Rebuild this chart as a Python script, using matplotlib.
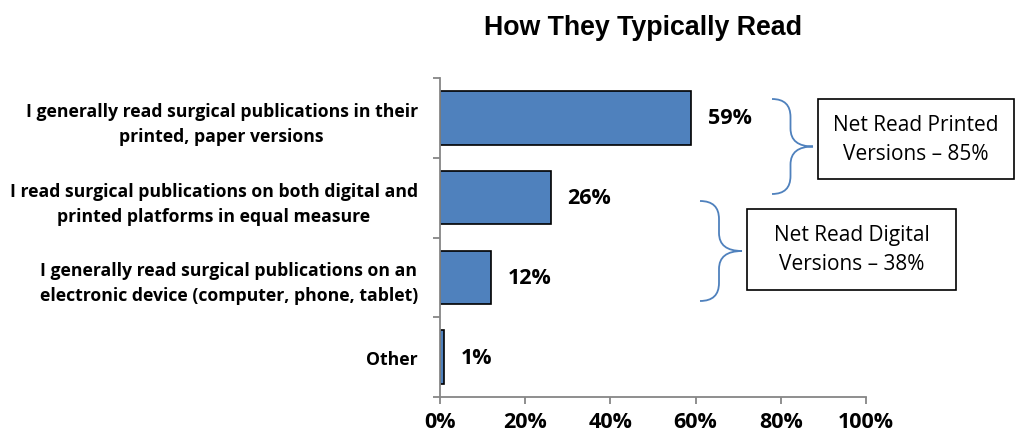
import matplotlib.pyplot as plt
from matplotlib.path import Path
from matplotlib.patches import PathPatch, Rectangle
import numpy as np

categories = [
    "I generally read surgical publications in their\nprinted, paper versions",
    "I read surgical publications on both digital and\nprinted platforms in equal measure",
    "I generally read surgical publications on an\nelectronic device (computer, phone, tablet)",
    "Other",
]
values = [59, 26, 12, 1]
x_ticks = [0, 20, 40, 60, 80, 100]
title = "How They Typically Read"
net_labels = ["Net Read Printed\nVersions \u2013 85%", "Net Read Digital\nVersions \u2013 38%"]

BAR = "#4F81BD"
AXIS = "#868686"
FONT = "Open Sans"
W, H = 1020, 439

fig = plt.figure(figsize=(W / 100, H / 100), dpi=100)
ax = fig.add_axes([440 / W, 1 - 398 / H, 426 / W, 319 / H])

y = np.arange(len(values))
ax.barh(y, values, height=0.67, color=BAR, edgecolor="black", linewidth=1.2)
ax.set_xlim(0, 100)
ax.set_ylim(len(values) - 0.5, -0.5)

for yi, v in zip(y, values):
    ax.annotate(f"{v}%", (v, yi), xytext=(12, 0), textcoords="offset points",
                va="center", ha="left", fontsize=15.5, fontweight="bold",
                family=FONT)

for s in ["top", "right"]:
    ax.spines[s].set_visible(False)
for s in ["left", "bottom"]:
    ax.spines[s].set_color(AXIS)
    ax.spines[s].set_linewidth(1.3)

ax.set_xticks(x_ticks)
ax.set_xticklabels([f"{t}%" for t in x_ticks], fontsize=15.5, fontweight="bold", family=FONT)
ax.tick_params(axis="x", length=5, width=1.3, color=AXIS, pad=5)

ax.set_yticks(np.arange(len(values) + 1) - 0.5)
ax.set_yticklabels([])
ax.tick_params(axis="y", which="major", length=5, width=1.3, color=AXIS)
ax.set_yticks(y, minor=True)
ax.set_yticklabels(categories, minor=True, fontsize=12.7, fontweight="bold",
                   family=FONT, multialignment="center", linespacing=1.5)
ax.tick_params(axis="y", which="minor", length=0, pad=16)

fig.text(643 / W, 1 - 28 / H, title, ha="center", va="center",
         fontsize=19.3, fontweight="bold", family="Liberation Sans")


def px(x, yy):
    return (x / W, 1 - yy / H)


def brace(x0, xtip, yt, yb, r=18):
    xm = (x0 + xtip) / 2 - 2
    ym = (yt + yb) / 2
    pts = [(x0, yt), (xm, yt), (xm, yt + r), (xm, ym - r), (xm, ym), (xtip, ym),
           (xm, ym), (xm, ym + r), (xm, yb - r), (xm, yb), (x0, yb)]
    codes = [Path.MOVETO, Path.CURVE3, Path.CURVE3, Path.LINETO, Path.CURVE3, Path.CURVE3,
             Path.CURVE3, Path.CURVE3, Path.LINETO, Path.CURVE3, Path.CURVE3]
    path = Path([px(*p) for p in pts], codes)
    fig.patches.append(PathPatch(path, transform=fig.transFigure, fill=False,
                                 edgecolor=BAR, linewidth=1.3))


def box(x0, x1, yt, yb, text):
    fig.patches.append(Rectangle(px(x0, yb), (x1 - x0) / W, (yb - yt) / H,
                                 transform=fig.transFigure, fill=False,
                                 edgecolor="black", linewidth=1.2))
    fig.text((x0 + x1) / 2 / W, 1 - (yt + yb) / 2 / H, text, ha="center", va="center",
             fontsize=15, family=FONT, linespacing=1.5)


brace(772, 813, 100, 195)
box(818, 1014, 100, 180, net_labels[0])
brace(700, 742, 202, 302)
box(747, 956, 210, 291, net_labels[1])

fig.savefig("out.png", dpi=100)
